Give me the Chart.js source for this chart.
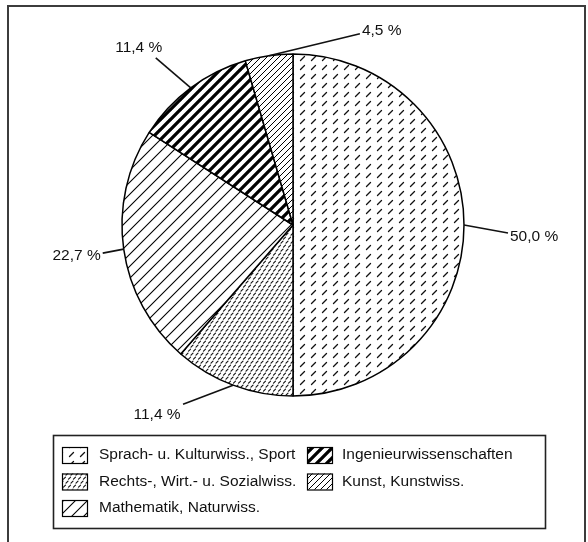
<!DOCTYPE html>
<html><head><meta charset="utf-8">
<script src="https://cdn.jsdelivr.net/npm/chart.js@4.4.1/dist/chart.umd.min.js"></script>
<style>html,body{margin:0;padding:0;background:#fff;}canvas{display:block;}</style>
</head><body>
<canvas id="c" width="588" height="542"></canvas>
<script>
// ---- data ----
const categories = ['Sprach- u. Kulturwiss., Sport', 'Rechts-, Wirt.- u. Sozialwiss.', 'Mathematik, Naturwiss.', 'Ingenieurwissenschaften', 'Kunst, Kunstwiss.'];
const shares = [50.0, 11.4, 22.7, 11.4, 4.5];
const shareLabels = ['50,0 %', '11,4 %', '22,7 %', '11,4 %', '4,5 %'];

// ---- styles / layout ----
const FONT = '15.5px "Liberation Sans", Arial, sans-serif';
const TEXT = '#111';
// leader: offset of the outer end from the arc edge point; text: offset from the outer end
const labelLayout = [
  {dx: 44, dy: 8, tx: 2, ty: 3.5, align: 'left'},
  {dx: -50, dy: 19, tx: -26, ty: 11, align: 'center'},
  {dx: -21, dy: 4, tx: -2, ty: 3, align: 'right'},
  {dx: -35, dy: -30, tx: -17, ty: -10, align: 'center'},
  {dx: 91, dy: -22, tx: 2, ty: -3, align: 'left'}
];
const legendCols = [[0, 1, 2], [3, 4]];

function mk(w, h) { const c = document.createElement('canvas'); c.width = w; c.height = h; const x = c.getContext('2d'); x.fillStyle = '#fff'; x.fillRect(0, 0, w, h); return [c, x]; }
function hatch(size, lw) {
  const [c, x] = mk(size, size);
  x.strokeStyle = '#000'; x.lineWidth = lw; x.beginPath();
  for (let k = -1; k <= 1; k++) { x.moveTo(k * size - 1, size + 1); x.lineTo(k * size + size + 1, -1); }
  x.stroke(); return c;
}
function dashes(w, h, segs, lw) {
  const [c, x] = mk(w, h);
  x.strokeStyle = '#111'; x.lineWidth = lw; x.lineCap = 'round'; x.beginPath();
  segs.forEach(s => { x.moveTo(s[0], s[1]); x.lineTo(s[2], s[3]); });
  x.stroke(); return c;
}
const ctx = document.getElementById('c').getContext('2d');
const patterns = [
  ctx.createPattern(dashes(11, 9, [[3.5, 6.5, 7.5, 2.5]], 1.25), 'repeat'),
  ctx.createPattern(dashes(10, 8, [[1, 3.2, 3, 1.2], [6, 3.2, 8, 1.2], [3.5, 7.2, 5.5, 5.2], [8.5, 7.2, 10.5, 5.2], [-1.5, 7.2, 0.5, 5.2]], 1.1), 'repeat'),
  ctx.createPattern(hatch(12, 1.1), 'repeat'),
  ctx.createPattern(hatch(10, 3.3), 'repeat'),
  ctx.createPattern(hatch(6, 1), 'repeat')
];

const decor = {
  id: 'decor',
  beforeDraw(chart) {
    const c = chart.ctx; c.save();
    c.fillStyle = '#fff'; c.fillRect(0, 0, chart.width, chart.height);
    c.strokeStyle = '#3c3c3c'; c.lineWidth = 2;
    c.strokeRect(8, 6, 577, 600);
    c.restore();
  },
  afterDatasetsDraw(chart) {
    const c = chart.ctx; c.save();
    c.font = FONT; c.fillStyle = TEXT; c.strokeStyle = '#111'; c.lineWidth = 1.6; c.textBaseline = 'middle';
    chart.getDatasetMeta(0).data.forEach((arc, i) => {
      const p = arc.getProps(['x', 'y', 'startAngle', 'endAngle', 'outerRadius'], true);
      const mid = (p.startAngle + p.endAngle) / 2;
      const sx = p.x + Math.cos(mid) * p.outerRadius, sy = p.y + Math.sin(mid) * p.outerRadius;
      const L = labelLayout[i];
      const ex = sx + L.dx, ey = sy + L.dy;
      c.beginPath(); c.moveTo(sx, sy); c.lineTo(ex, ey); c.stroke();
      c.textAlign = L.align;
      c.fillText(shareLabels[i], ex + L.tx, ey + L.ty);
    });
    c.restore();
  },
  afterDraw(chart) {
    const c = chart.ctx; c.save();
    c.strokeStyle = '#222'; c.lineWidth = 1.6;
    c.strokeRect(53.5, 435.5, 492, 93);
    const colX = [62, 307], textX = [99, 342], rowY = [455, 481.5, 508];
    const ds = chart.data.datasets[0];
    c.font = FONT; c.textBaseline = 'middle'; c.textAlign = 'left';
    legendCols.forEach((col, ci) => col.forEach((idx, ri) => {
      const bx = colX[ci], by = rowY[ri] - 8;
      c.fillStyle = ds.backgroundColor[idx]; c.fillRect(bx, by, 25, 16);
      c.lineWidth = 1.2; c.strokeStyle = '#000'; c.strokeRect(bx + 0.5, by + 0.5, 25, 16);
      c.fillStyle = TEXT; c.fillText(chart.data.labels[idx], textX[ci], rowY[ri]);
    }));
    c.restore();
  }
};

new Chart(ctx, {
  type: 'pie',
  data: { labels: categories, datasets: [{ data: shares, backgroundColor: patterns, borderColor: '#000', borderWidth: 1.5 }] },
  options: {
    responsive: false, animation: false, events: [],
    radius: 171,
    layout: { padding: { top: 54, bottom: 146, left: 0, right: 2 } },
    plugins: { legend: { display: false }, tooltip: { enabled: false } }
  },
  plugins: [decor]
});
</script>
</body></html>
